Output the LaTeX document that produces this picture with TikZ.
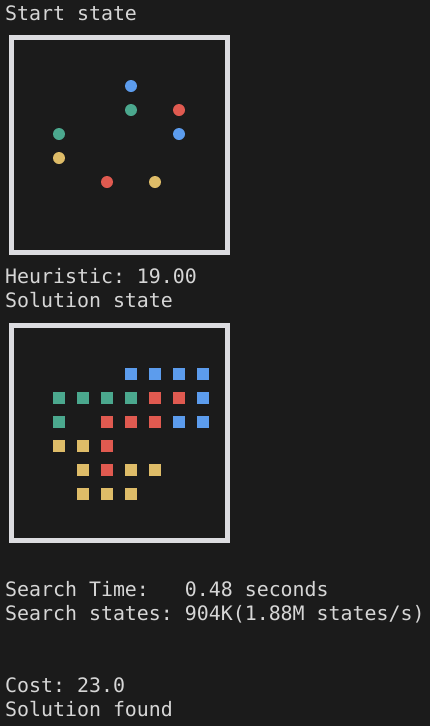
\documentclass[tikz,border=0pt]{standalone}
\usepackage{fontspec}
\setmonofont{DejaVu Sans Mono}
\definecolor{bg}{HTML}{1B1B1B}
\definecolor{txt}{HTML}{D6D6D6}
\definecolor{frame}{HTML}{DCDCE0}
\definecolor{cb}{HTML}{5C9CED}
\definecolor{cg}{HTML}{4BA88E}
\definecolor{cr}{HTML}{E05A50}
\definecolor{cy}{HTML}{DEBC68}
\begin{document}
\begin{tikzpicture}[x=1pt,y=-1pt,
  lbl/.style={anchor=base west,inner sep=0,text=txt,font=\ttfamily\fontsize{19.9}{24}\selectfont},
  board/.style={draw=frame,line width=5pt},
  dot/.style={circle,fill=#1,minimum size=12pt,inner sep=0},
  sq/.style={rectangle,fill=#1,minimum size=12pt,inner sep=0}]
\fill[bg] (0,0) rectangle (430,726);
\useasboundingbox (0,0) rectangle (430,726);
\node[lbl] (t1) at (5,20) {Start state};
\draw[board] (11.5,37.5) rectangle (227.5,252.5);
\node[dot=cb] (d1) at (131,86) {};
\node[dot=cg] (d2) at (131,110) {};
\node[dot=cr] (d3) at (179,110) {};
\node[dot=cg] (d4) at (59,134) {};
\node[dot=cb] (d5) at (179,134) {};
\node[dot=cy] (d6) at (59,158) {};
\node[dot=cr] (d7) at (107,182) {};
\node[dot=cy] (d8) at (155,182) {};
\node[lbl] (t2) at (5,283) {Heuristic: 19.00};
\node[lbl] (t3) at (5,307) {Solution state};
\draw[board] (11.5,325.5) rectangle (227.5,540.5);
\foreach \x/\y/\c [count=\i] in {
  131/374/cb,155/374/cb,179/374/cb,203/374/cb,
  59/398/cg,83/398/cg,107/398/cg,131/398/cg,155/398/cr,179/398/cr,203/398/cb,
  59/422/cg,107/422/cr,131/422/cr,155/422/cr,179/422/cb,203/422/cb,
  59/446/cy,83/446/cy,107/446/cr,
  83/470/cy,107/470/cr,131/470/cy,155/470/cy,
  83/494/cy,107/494/cy,131/494/cy}
  \node[sq=\c] (s\i) at (\x,\y) {};
\node[lbl] (t4) at (5,596) {Search Time:\ \ \ 0.48 seconds};
\node[lbl] (t5) at (5,620) {Search states: 904K(1.88M states/s)};
\node[lbl] (t6) at (5,692) {Cost: 23.0};
\node[lbl] (t7) at (5,716) {Solution found};
\end{tikzpicture}
\end{document}
